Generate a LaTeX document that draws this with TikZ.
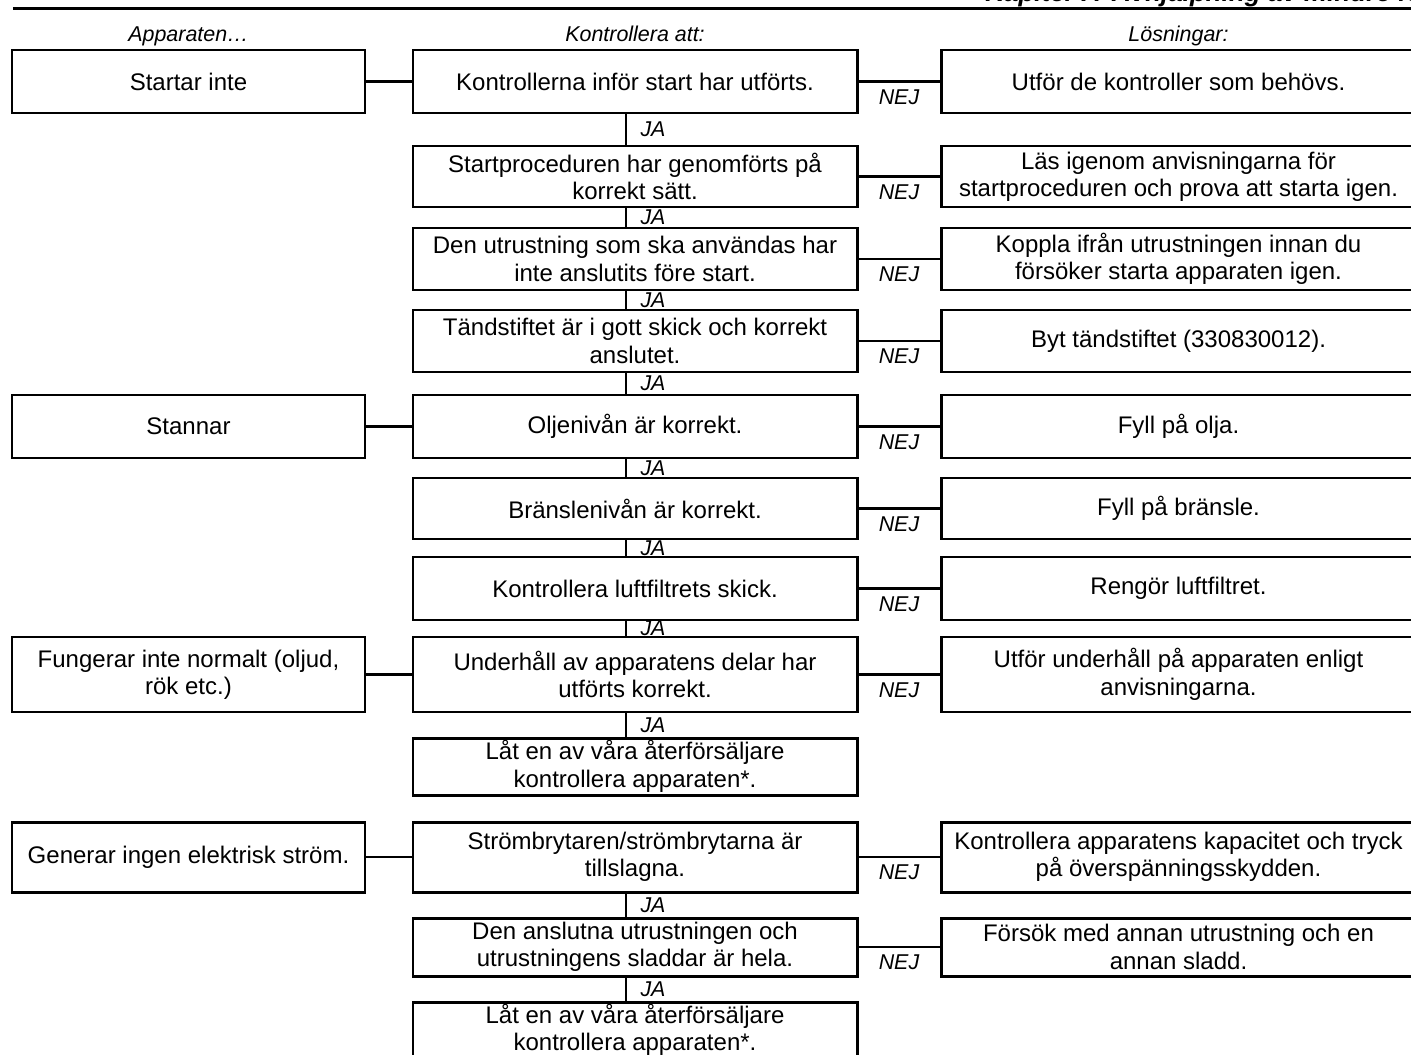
\documentclass[tikz,border=0pt]{standalone}
\usepackage{fontspec}
\setmainfont{Liberation Sans}
\usetikzlibrary{positioning}
\newcommand\boxsize{\fontsize{13.66pt}{15.6pt}\selectfont}
\newcommand\lblsize{\fontsize{12.2pt}{14pt}\selectfont\itshape}
\newcommand\ttlsize{\fontsize{14.8pt}{17pt}\selectfont\bfseries\itshape}
\tikzset{
  fbox/.style={draw,line width=1.7pt,outer sep=0pt,inner sep=1pt,
               align=center,font=\boxsize},
  colA/.style={fbox,minimum width=7.06cm},
  colK/.style={fbox,minimum width=8.88cm},
  colL/.style={fbox,minimum width=9.5cm},
  link/.style={line width=1.3pt},
  hdr/.style={font=\lblsize,anchor=base},
  nej/.style={font=\lblsize,below,yshift=-0.02cm},
  ja/.style={font=\lblsize,midway,right,xshift=0.15cm},
}

\begin{document}
\begin{tikzpicture}
  \useasboundingbox (0,0) rectangle (28.22,-21.1);
  \clip (0,0) rectangle (28.22,-21.1);

  % page head
  \node[font=\ttlsize,anchor=base west,inner sep=0pt] (ttl) at (19.7,-0.03)
        {Kapitel 7: Avhjälpning av mindre fel};
  \draw[line width=0.07cm] (0.26,-0.166) -- (28.4,-0.166);

  % middle column: checks
  \node[colK,minimum height=1.26cm] (k1) at (12.7,-1.63)
        {Kontrollerna inför start har utförts.};
  \node[colK,minimum height=1.22cm,below=0.66cm of k1] (k2)
        {Startproceduren har genomförts på\\korrekt sätt.};
  \node[colK,minimum height=1.24cm,below=0.42cm of k2] (k3)
        {Den utrustning som ska användas har\\inte anslutits före start.};
  \node[colK,minimum height=1.24cm,below=0.40cm of k3] (k4)
        {Tändstiftet är i gott skick och korrekt\\anslutet.};
  \node[colK,minimum height=1.26cm,below=0.46cm of k4] (k5)
        {Oljenivån är korrekt.};
  \node[colK,minimum height=1.22cm,below=0.40cm of k5] (k6)
        {Bränslenivån är korrekt.};
  \node[colK,minimum height=1.26cm,below=0.36cm of k6] (k7)
        {Kontrollera luftfiltrets skick.};
  \node[colK,minimum height=1.50cm,below=0.34cm of k7] (k8)
        {Underhåll av apparatens delar har\\utförts korrekt.};
  \node[colK,minimum height=1.14cm,below=0.52cm of k8] (k9)
        {Låt en av våra återförsäljare\\kontrollera apparaten*.};
  \node[colK,minimum height=1.40cm,below=0.54cm of k9] (k10)
        {Strömbrytaren/strömbrytarna är\\tillslagna.};
  \node[colK,minimum height=1.16cm,below=0.52cm of k10] (k11)
        {Den anslutna utrustningen och\\utrustningens sladdar är hela.};
  \node[colK,minimum height=0.98cm,below=0.52cm of k11] (k12)
        {Låt en av våra återförsäljare\\kontrollera apparaten*.};

  % left column: symptoms
  \node[colA,minimum height=1.26cm,left=0.96cm of k1] (a1) {Startar inte};
  \node[colA,minimum height=1.26cm,left=0.96cm of k5] (a5) {Stannar};
  \node[colA,minimum height=1.50cm,left=0.96cm of k8] (a8)
        {Fungerar inte normalt (oljud,\\rök etc.)};
  \node[colA,minimum height=1.40cm,left=0.96cm of k10] (a10)
        {Generar ingen elektrisk ström.};

  % right column: remedies
  \node[colL,minimum height=1.26cm,right=1.68cm of k1] (l1)
        {Utför de kontroller som behövs.};
  \node[colL,minimum height=1.22cm,right=1.68cm of k2] (l2)
        {Läs igenom anvisningarna för\\startproceduren och prova att starta igen.};
  \node[colL,minimum height=1.24cm,right=1.68cm of k3] (l3)
        {Koppla ifrån utrustningen innan du\\försöker starta apparaten igen.};
  \node[colL,minimum height=1.24cm,right=1.68cm of k4] (l4)
        {Byt tändstiftet (330830012).};
  \node[colL,minimum height=1.26cm,right=1.68cm of k5] (l5) {Fyll på olja.};
  \node[colL,minimum height=1.22cm,right=1.68cm of k6] (l6) {Fyll på bränsle.};
  \node[colL,minimum height=1.26cm,right=1.68cm of k7] (l7) {Rengör luftfiltret.};
  \node[colL,minimum height=1.50cm,right=1.68cm of k8] (l8)
        {Utför underhåll på apparaten enligt\\anvisningarna.};
  \node[colL,minimum height=1.40cm,right=1.68cm of k10] (l10)
        {Kontrollera apparatens kapacitet och tryck\\på överspänningsskydden.};
  \node[colL,minimum height=1.16cm,right=1.68cm of k11] (l11)
        {Försök med annan utrustning och en\\annan sladd.};

  % column heads
  \node[hdr] (hA) at ([yshift=0.18cm]a1.north) {Apparaten…};
  \node[hdr] (hK) at ([yshift=0.18cm]k1.north) {Kontrollera att:};
  \node[hdr] (hL) at ([yshift=0.18cm]l1.north) {Lösningar:};

  % symptom -> first check
  \draw[link] (a1) -- (k1);
  \draw[link] (a5) -- (k5);
  \draw[link] (a8) -- (k8);
  \draw[link] (a10) -- (k10);

  % NEJ branches
  \draw[link] (k1) -- node[nej] {NEJ} (l1);
  \draw[link] (k2) -- node[nej] {NEJ} (l2);
  \draw[link] (k3) -- node[nej] {NEJ} (l3);
  \draw[link] (k4) -- node[nej] {NEJ} (l4);
  \draw[link] (k5) -- node[nej] {NEJ} (l5);
  \draw[link] (k6) -- node[nej] {NEJ} (l6);
  \draw[link] (k7) -- node[nej] {NEJ} (l7);
  \draw[link] (k8) -- node[nej] {NEJ} (l8);
  \draw[link] (k10) -- node[nej] {NEJ} (l10);
  \draw[link] (k11) -- node[nej] {NEJ} (l11);

  % JA chain
  \draw[link] ([xshift=-0.18cm]k1.south) -- ([xshift=-0.18cm]k2.north) node[ja] {JA};
  \draw[link] ([xshift=-0.18cm]k2.south) -- ([xshift=-0.18cm]k3.north) node[ja] {JA};
  \draw[link] ([xshift=-0.18cm]k3.south) -- ([xshift=-0.18cm]k4.north) node[ja] {JA};
  \draw[link] ([xshift=-0.18cm]k4.south) -- ([xshift=-0.18cm]k5.north) node[ja] {JA};
  \draw[link] ([xshift=-0.18cm]k5.south) -- ([xshift=-0.18cm]k6.north) node[ja] {JA};
  \draw[link] ([xshift=-0.18cm]k6.south) -- ([xshift=-0.18cm]k7.north) node[ja] {JA};
  \draw[link] ([xshift=-0.18cm]k7.south) -- ([xshift=-0.18cm]k8.north) node[ja] {JA};
  \draw[link] ([xshift=-0.18cm]k8.south) -- ([xshift=-0.18cm]k9.north) node[ja] {JA};
  \draw[link] ([xshift=-0.18cm]k10.south) -- ([xshift=-0.18cm]k11.north) node[ja] {JA};
  \draw[link] ([xshift=-0.18cm]k11.south) -- ([xshift=-0.18cm]k12.north) node[ja] {JA};
\end{tikzpicture}
\end{document}
